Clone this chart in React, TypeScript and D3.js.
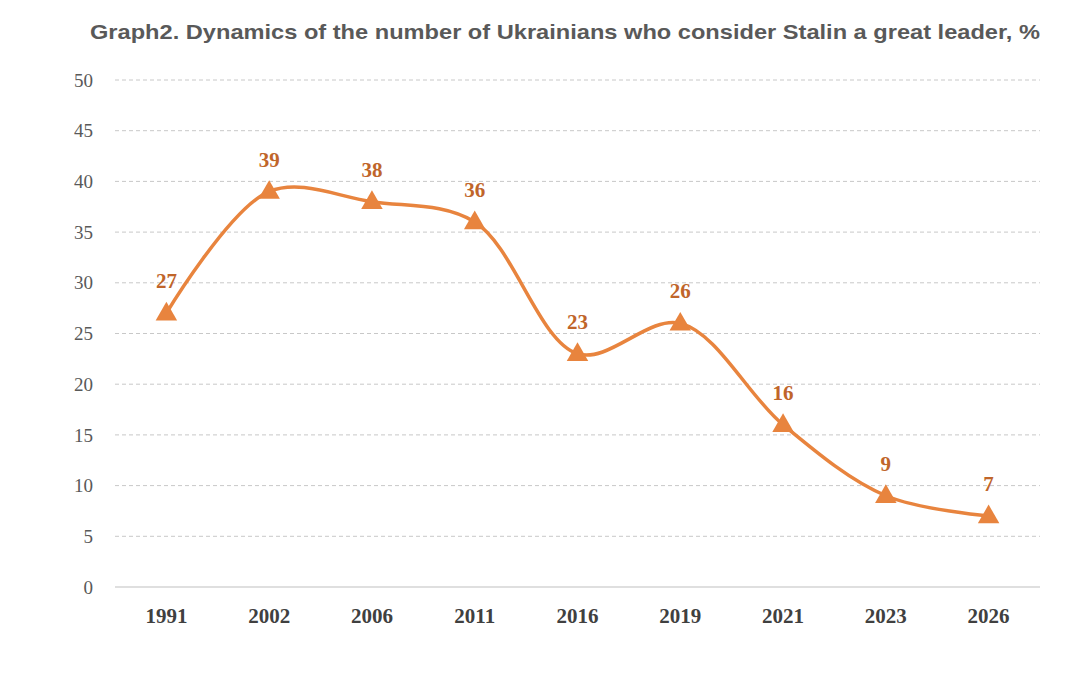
import { scaleLinear, scalePoint, line as d3_line, curveCatmullRom, symbol, symbolTriangle } from "d3";

const years = ["1991", "2002", "2006", "2011", "2016", "2019", "2021", "2023", "2026"];
const values = [27, 39, 38, 36, 23, 26, 16, 9, 7];
const yTicks = [0, 5, 10, 15, 20, 25, 30, 35, 40, 45, 50];
const title = "Graph2. Dynamics of the number of Ukrainians who consider Stalin a great leader, %";

export default function App() {
  const width = 1080;
  const height = 678;
  const left = 115;
  const right = 1040;

  const x = scalePoint<string>().domain(years).range([left, right]).padding(0.5);
  const y = scaleLinear().domain([0, 50]).range([587, 80]);

  const pts = years.map((yr, i) => ({ yr, v: values[i] }));
  const path = d3_line<typeof pts[number]>()
    .x((d) => x(d.yr)!)
    .y((d) => y(d.v))
    .curve(curveCatmullRom.alpha(0.5))(pts);

  const tri = symbol().type(symbolTriangle).size(200)();

  return (
    <svg width={width} height={height} style={{ position: "absolute", left: 0, top: 0, background: "#fff" }}>
      <text x={90} y={39} textLength={950} lengthAdjust="spacingAndGlyphs" fontFamily="Liberation Sans, Arial, sans-serif" fontWeight="bold" fontSize={21} fill="#595959">
        {title}
      </text>

      {/* grid */}
      {yTicks.map((t) => (
        <g key={t}>
          <line
            x1={left}
            x2={right}
            y1={y(t)}
            y2={y(t)}
            stroke={t === 0 ? "#bfbfbf" : "#c8c8c8"}
            strokeWidth={1}
            strokeDasharray={t === 0 ? undefined : "4,3"}
          />
          <text x={93} y={y(t)} dy="0.35em" textAnchor="end" fontFamily="Liberation Serif, Times New Roman, serif" fontSize={19} fill="#595959">
            {t}
          </text>
        </g>
      ))}

      {/* x labels */}
      {years.map((yr) => (
        <text key={yr} x={x(yr)} y={623} textAnchor="middle" fontFamily="Liberation Serif, Times New Roman, serif" fontWeight="bold" fontSize={21} fill="#404040">
          {yr}
        </text>
      ))}

      <path d={path ?? ""} fill="none" stroke="#e8843e" strokeWidth={3.5} />

      {pts.map((d) => (
        <g key={d.yr}>
          <path d={tri ?? ""} transform={`translate(${x(d.yr)},${y(d.v) + 1})`} fill="#e8843e" />
          <text x={x(d.yr)} y={y(d.v) - 25} textAnchor="middle" fontFamily="Liberation Serif, Times New Roman, serif" fontWeight="bold" fontSize={21} fill="#c0652a">
            {d.v}
          </text>
        </g>
      ))}
    </svg>
  );
}
